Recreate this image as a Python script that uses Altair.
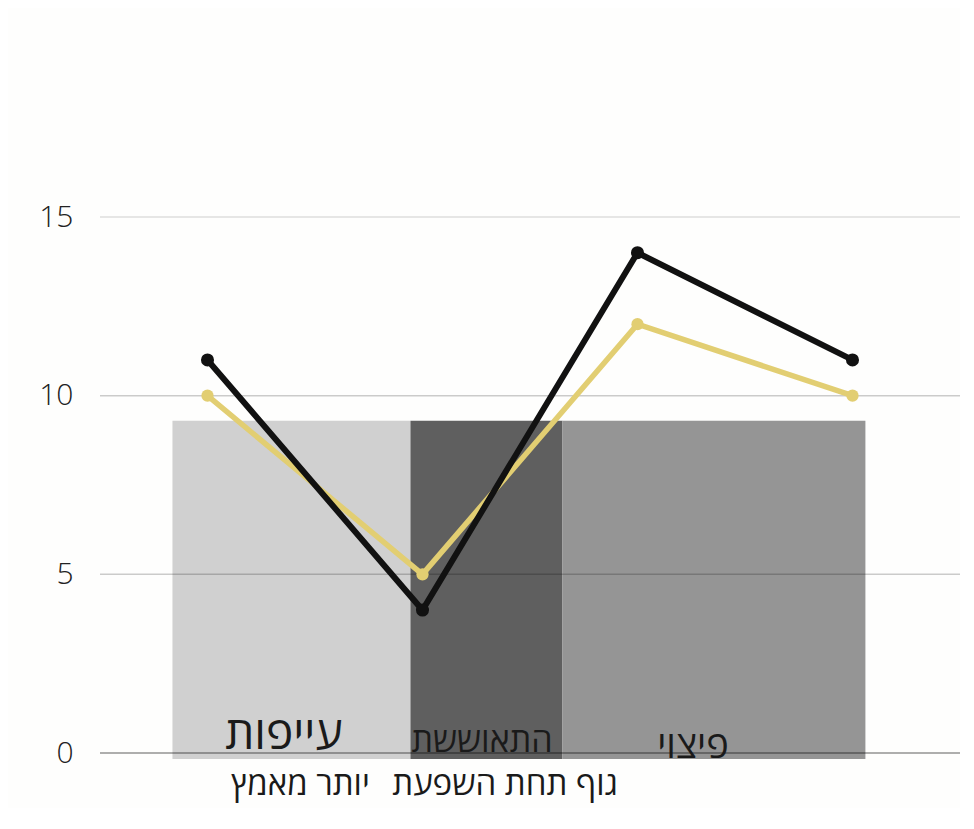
import altair as alt
import pandas as pd

# ---- data ----
stages = ["A", "B", "C", "D"]
stage_pos = [0, 1, 2, 3]
black_values = [11, 4, 14, 11]
yellow_values = [10, 5, 12, 10]

band_start = [-0.163, 0.944, 1.651]
band_end = [0.944, 1.651, 3.060]
band_top = [9.3, 9.3, 9.3]
band_bottom = [-0.17, -0.17, -0.17]
band_colors = ["#d0d0d0", "#5f5f5f", "#959595"]

grid_values = [0, 5, 10, 15]
grid_opacity = [0.42, 0.2, 0.2, 0.13]

label_texts = ["עייפות", "התאוששת", "פיצוי", "יותר מאמץ", "גוף תחת השפעת"]
label_x = [0.355, 1.277, 2.258, 0.433, 1.384]
label_y = [0.11, 0.03, -0.15, -1.17, -1.17]
label_size = [46, 34, 38, 33, 33]

FONT = "Open Sans, Liberation Sans, DejaVu Sans"

x_scale = alt.Scale(domain=[-0.5, 3.5], nice=False, zero=False)
y_scale = alt.Scale(domain=[0, 15], nice=False, zero=False)

bands = pd.DataFrame({"x": band_start, "x2": band_end, "y": band_top,
                      "y2": band_bottom, "c": band_colors})
grid = pd.DataFrame({"v": grid_values, "o": grid_opacity,
                     "a": [-0.5] * 4, "b": [3.5] * 4})
black = pd.DataFrame({"pos": stage_pos, "value": black_values, "stage": stages})
yellow = pd.DataFrame({"pos": stage_pos, "value": yellow_values, "stage": stages})
labels = pd.DataFrame({"t": label_texts, "x": label_x, "y": label_y, "s": label_size})

band_layer = alt.Chart(bands).mark_rect().encode(
    x=alt.X("x:Q", scale=x_scale, axis=None),
    x2="x2:Q",
    y=alt.Y("y:Q", scale=y_scale,
            axis=alt.Axis(values=grid_values, grid=False, domain=False, ticks=False,
                          labelFont=FONT, labelFontSize=30, labelFontWeight=300,
                          labelColor="#222222", labelPadding=27, title=None)),
    y2="y2:Q",
    color=alt.Color("c:N", scale=None),
)

grid_layer = alt.Chart(grid).mark_rule(color="black", strokeWidth=1.5).encode(
    x=alt.X("a:Q", scale=x_scale),
    x2="b:Q",
    y=alt.Y("v:Q", scale=y_scale),
    opacity=alt.Opacity("o:Q", scale=None),
)

yellow_layer = alt.Chart(yellow).mark_line(
    color="#e2ce72", strokeWidth=5.5,
    point=alt.OverlayMarkDef(color="#e2ce72", size=150, filled=True, opacity=1),
).encode(x=alt.X("pos:Q", scale=x_scale), y=alt.Y("value:Q", scale=y_scale))

black_layer = alt.Chart(black).mark_line(
    color="#111111", strokeWidth=6,
    point=alt.OverlayMarkDef(color="#111111", size=170, filled=True, opacity=1),
).encode(x=alt.X("pos:Q", scale=x_scale), y=alt.Y("value:Q", scale=y_scale))

text_layer = alt.Chart(labels).mark_text(
    font=FONT, color="#1a1a1a", align="center", baseline="alphabetic"
).encode(
    x=alt.X("x:Q", scale=x_scale),
    y=alt.Y("y:Q", scale=y_scale),
    text="t:N",
    size=alt.Size("s:Q", scale=None),
)

chart = alt.layer(band_layer, grid_layer, yellow_layer, black_layer, text_layer).properties(
    width=860, height=536,
    autosize=alt.AutoSizeParams(type="none"),
    padding={"left": 92, "top": 209, "right": 0, "bottom": 55},
    background="#fefefd",
).configure_view(strokeWidth=0)

chart.save("out.html", embed_options={"renderer": "svg", "actions": False})
